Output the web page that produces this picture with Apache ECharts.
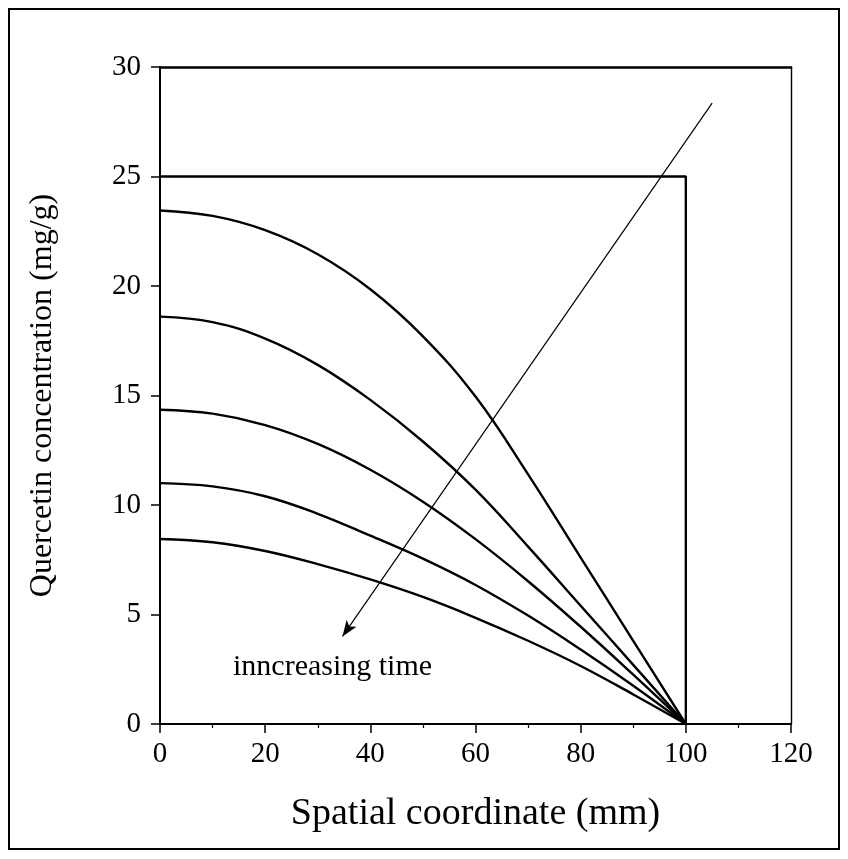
<!DOCTYPE html>
<html>
<head>
<meta charset="utf-8">
<script src="https://cdn.jsdelivr.net/npm/echarts@6/dist/echarts.min.js"></script>
<style>
html, body { margin: 0; padding: 0; background: #fff; }
#chart { width: 848px; height: 859px; }
</style>
</head>
<body>
<div id="chart"></div>
<script>
// x positions (mm)
var xs = [0, 10, 20, 30, 40, 50, 60, 70, 80, 90, 100]
// profiles, earliest first
var c1 = [23.45, 23.2, 22.55, 21.45, 19.85, 17.7, 14.95, 11.4, 7.6, 3.8, 0]
var c2 = [18.6, 18.35, 17.6, 16.4, 14.8, 12.9, 10.7, 8.1, 5.4, 2.7, 0]
var c3 = [14.35, 14.17, 13.65, 12.79, 11.61, 10.15, 8.44, 6.52, 4.44, 2.25, 0]
var c4 = [11.0, 10.85, 10.4, 9.6, 8.6, 7.55, 6.35, 4.95, 3.4, 1.75, 0]
var c5 = [8.45, 8.3, 7.9, 7.3, 6.6, 5.8, 4.85, 3.8, 2.65, 1.35, 0]
// initial condition
var initX = [0, 100, 100]
var initY = [25, 25, 0]
// arrow "increasing time"
var arrowFrom = [105, 28.35]
var arrowTo = [34.7, 4.0]

var serif = '"Liberation Serif", "Times New Roman", serif'

function pairs(x, y) {
    var out = []
    for (var i = 0; i < x.length; i++) out.push([x[i], y[i]])
    return out
}

var curves = [c1, c2, c3, c4, c5]
var series = [{
    type: 'line',
    data: pairs(initX, initY),
    symbol: 'none',
    lineStyle: { color: '#000', width: 2.4 },
    silent: true
}]
curves.forEach(function(c) {
    series.push({
        type: 'line',
        data: pairs(xs, c),
        symbol: 'none',
        smooth: 0.4,
        lineStyle: { color: '#000', width: 2.4 },
        silent: true
    })
})
series.push({
    type: 'line',
    data: [],
    silent: true,
    markLine: {
        silent: true,
        symbol: ['none', 'arrow'],
        symbolSize: [9, 16],
        label: { show: false },
        lineStyle: { color: '#000', width: 1.2, type: 'solid' },
        data: [[{ coord: arrowFrom }, { coord: arrowTo }]]
    }
})

var option = {
    backgroundColor: '#fff',
    animation: false,
    grid: { left: 160, right: 57, top: 67, bottom: 135 },
    xAxis: [{
        type: 'value',
        min: 0, max: 120, interval: 20,
        name: 'Spatial coordinate (mm)',
        nameLocation: 'middle',
        nameGap: 71,
        nameTextStyle: { fontFamily: serif, fontSize: 38, color: '#000' },
        axisLine: { lineStyle: { color: '#000', width: 2 } },
        axisTick: { inside: false, length: 9, lineStyle: { color: '#000', width: 1.5 } },
        minorTick: { show: true, splitNumber: 2, length: 4, lineStyle: { color: '#000', width: 1.2 } },
        axisLabel: { fontFamily: serif, fontSize: 29, color: '#000', margin: 16 },
        splitLine: { show: false }
    }, {
        type: 'value',
        position: 'top',
        min: 0, max: 120,
        axisLine: { show: true, onZero: false, lineStyle: { color: '#000', width: 2.5 } },
        axisTick: { show: false },
        axisLabel: { show: false },
        splitLine: { show: false }
    }],
    yAxis: [{
        type: 'value',
        min: 0, max: 30, interval: 5,
        name: 'Quercetin concentration (mg/g)',
        nameLocation: 'middle',
        nameGap: 101,
        nameTextStyle: { fontFamily: serif, fontSize: 32, color: '#000' },
        axisLine: { show: true, lineStyle: { color: '#000', width: 2 } },
        axisTick: { show: true, inside: false, length: 9, lineStyle: { color: '#000', width: 1.5 } },
        axisLabel: { fontFamily: serif, fontSize: 29, color: '#000', margin: 19 },
        splitLine: { show: false }
    }, {
        type: 'value',
        position: 'right',
        min: 0, max: 30,
        axisLine: { show: true, onZero: false, lineStyle: { color: '#000', width: 1.4 } },
        axisTick: { show: false },
        axisLabel: { show: false },
        splitLine: { show: false }
    }],
    graphic: [{
        type: 'rect',
        shape: { x: 9, y: 9, width: 830, height: 840 },
        style: { fill: 'none', stroke: '#000', lineWidth: 2 },
        silent: true
    }, {
        type: 'text',
        left: 233,
        top: 652,
        style: { text: 'inncreasing time', font: '30px ' + serif, fill: '#000' },
        silent: true
    }],
    series: series
}

var myChart = echarts.init(document.getElementById('chart'))
myChart.setOption(option)
window.addEventListener('resize', function() {
    myChart.resize()
})
</script>
</body>
</html>
